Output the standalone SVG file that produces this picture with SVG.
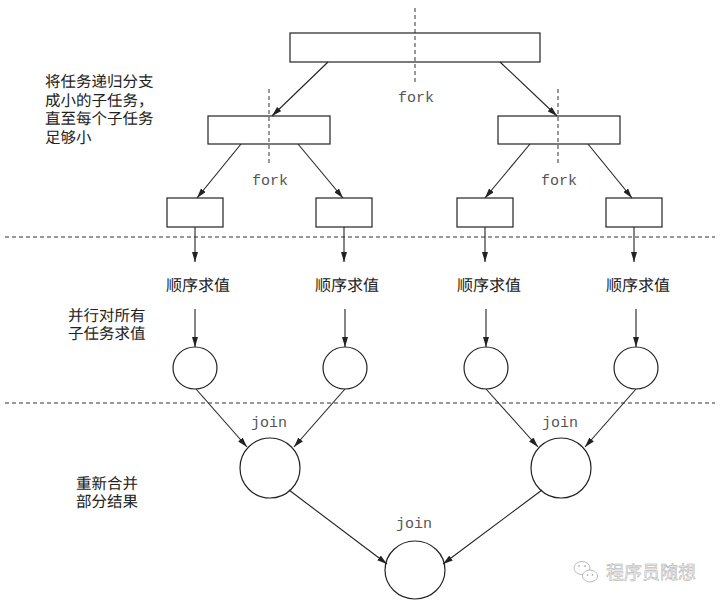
<svg xmlns="http://www.w3.org/2000/svg" width="720" height="604" viewBox="0 0 720 604">
<style>
.box{fill:#fff;stroke:#222;stroke-width:1.2}
.cir{fill:#fff;stroke:#222;stroke-width:1.2}
.edge{stroke:#222;stroke-width:1.1;fill:none;marker-end:url(#ah)}
.dash{stroke:#333;stroke-width:1;stroke-dasharray:4 3;fill:none}
.mono{font-family:"Liberation Mono","DejaVu Sans Mono",monospace;font-size:15px;fill:#555;text-anchor:middle}
.cn{font-family:"Noto Sans CJK SC",sans-serif;font-size:15.5px;fill:#222;text-rendering:geometricPrecision}
.cnm{font-family:"Noto Sans CJK SC",sans-serif;font-size:16px;fill:#222;text-rendering:geometricPrecision}
.wm{font-family:"Noto Sans CJK SC",sans-serif;font-size:18px;fill:#f2f2f2;stroke:#aaa;stroke-width:0.45}
</style>
<defs>
<marker id="ah" markerWidth="10" markerHeight="6" refX="10" refY="3" orient="auto" markerUnits="userSpaceOnUse">
<path d="M0,0 L10,3 L0,6 z" fill="#222"/>
</marker>
</defs>
<rect width="720" height="604" fill="#fff"/>

<g id="separators">
<line class="dash" x1="5" y1="237" x2="715" y2="237"/>
<line class="dash" x1="5" y1="403" x2="715" y2="403"/>
</g>

<g id="root-task">
<rect class="box" x="290" y="33" width="250" height="29"/>
<line class="dash" x1="415" y1="8" x2="415" y2="83"/>
<text class="mono" x="416" y="102">fork</text>
</g>

<g id="sub-left">
<rect class="box" x="208" y="116" width="122" height="28"/>
<line class="dash" x1="269" y1="89" x2="269" y2="165"/>
<text class="mono" x="270" y="185">fork</text>
</g>
<g id="sub-right">
<rect class="box" x="498" y="116" width="122" height="28"/>
<line class="dash" x1="558" y1="89" x2="558" y2="165"/>
<text class="mono" x="559" y="185">fork</text>
</g>

<g id="leaf1"><rect class="box" x="167" y="198" width="56" height="29"/></g>
<g id="leaf2"><rect class="box" x="316" y="198" width="56" height="29"/></g>
<g id="leaf3"><rect class="box" x="457" y="198" width="56" height="29"/></g>
<g id="leaf4"><rect class="box" x="606" y="198" width="56" height="29"/></g>

<g id="eval1"><text class="cnm" x="166" y="291">顺序求值</text></g>
<g id="eval2"><text class="cnm" x="315" y="291">顺序求值</text></g>
<g id="eval3"><text class="cnm" x="457" y="291">顺序求值</text></g>
<g id="eval4"><text class="cnm" x="606" y="291">顺序求值</text></g>

<g id="result1"><ellipse class="cir" cx="195" cy="368" rx="22" ry="21"/></g>
<g id="result2"><ellipse class="cir" cx="345" cy="368" rx="22" ry="21"/></g>
<g id="result3"><ellipse class="cir" cx="486" cy="368" rx="22" ry="21"/></g>
<g id="result4"><ellipse class="cir" cx="636" cy="368" rx="22" ry="21"/></g>

<g id="join-left">
<text class="mono" x="269" y="427">join</text>
<circle class="cir" cx="270" cy="468" r="30"/>
</g>
<g id="join-right">
<text class="mono" x="560" y="427">join</text>
<circle class="cir" cx="561" cy="468" r="30"/>
</g>
<g id="join-final">
<text class="mono" x="414" y="528">join</text>
<ellipse class="cir" cx="415" cy="570" rx="30" ry="29"/>
</g>

<g id="connectors">
<line class="edge" x1="328" y1="62" x2="272" y2="116"/>
<line class="edge" x1="500" y1="62" x2="557" y2="116"/>
<line class="edge" x1="241" y1="144" x2="197" y2="198"/>
<line class="edge" x1="298" y1="144" x2="343" y2="198"/>
<line class="edge" x1="530" y1="144" x2="485" y2="198"/>
<line class="edge" x1="588" y1="144" x2="632" y2="198"/>
<line class="edge" x1="195" y1="227" x2="195" y2="262"/>
<line class="edge" x1="344" y1="227" x2="344" y2="262"/>
<line class="edge" x1="485" y1="227" x2="485" y2="262"/>
<line class="edge" x1="634" y1="227" x2="634" y2="262"/>
<line class="edge" x1="195" y1="309" x2="195" y2="347"/>
<line class="edge" x1="345" y1="309" x2="345" y2="347"/>
<line class="edge" x1="486" y1="309" x2="486" y2="347"/>
<line class="edge" x1="636" y1="309" x2="636" y2="347"/>
<line class="edge" x1="196" y1="389" x2="247" y2="447"/>
<line class="edge" x1="345" y1="389" x2="294" y2="447"/>
<line class="edge" x1="486" y1="389" x2="538" y2="447"/>
<line class="edge" x1="636" y1="389" x2="585" y2="447"/>
<line class="edge" x1="289" y1="490" x2="387" y2="564"/>
<line class="edge" x1="542" y1="490" x2="443" y2="564"/>
</g>

<g id="annotations">
<text class="cn"><tspan x="45" y="87">将任务递归分支</tspan><tspan x="45" y="106">成小的子任务，</tspan><tspan x="45" y="124">直至每个子任务</tspan><tspan x="45" y="143">足够小</tspan></text>
<text class="cn"><tspan x="68" y="321">并行对所有</tspan><tspan x="68" y="339">子任务求值</tspan></text>
<text class="cn"><tspan x="76" y="489">重新合并</tspan><tspan x="76" y="507">部分结果</tspan></text>
</g>

<g id="watermark">
<ellipse cx="582" cy="568" rx="8" ry="6.5" fill="none" stroke="#bbb" stroke-width="1"/>
<ellipse cx="590" cy="576" rx="7.5" ry="6" fill="#fff" stroke="#bbb" stroke-width="1"/>
<circle cx="579" cy="566" r="1" fill="#bbb"/>
<circle cx="585" cy="566" r="1" fill="#bbb"/>
<circle cx="587.5" cy="575" r="0.9" fill="#bbb"/>
<circle cx="592.5" cy="575" r="0.9" fill="#bbb"/>
<text class="wm" x="606" y="579">程序员随想</text>
</g>
</svg>
